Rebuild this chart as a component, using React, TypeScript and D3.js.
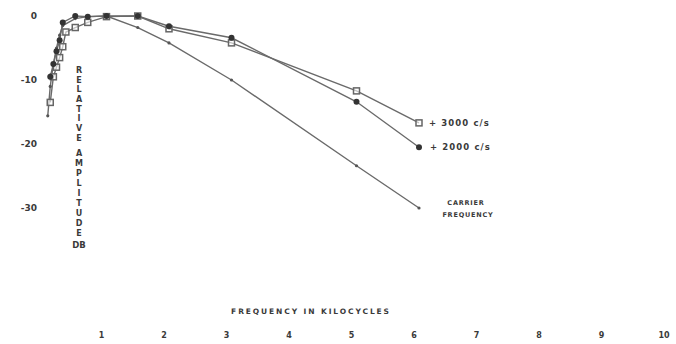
import React from "react";
import * as d3 from "d3";

// frequency in kc, relative amplitude in db
const carrierFreq = [0.06, 0.1, 0.15, 0.2, 0.25, 0.3, 0.5, 0.7, 1, 1.5, 2, 3, 5, 6];
const carrierDb = [-15.6, -11, -7.5, -5, -3, -1.5, -0.4, -0.1, 0, -1.8, -4.2, -10, -23.4, -30];

const plus2000Freq = [0.1, 0.15, 0.2, 0.25, 0.3, 0.5, 0.7, 1, 1.5, 2, 3, 5, 6];
const plus2000Db = [-9.5, -7.5, -5.5, -3.8, -1, 0, -0.1, 0, 0, -1.6, -3.4, -13.4, -20.5];

const plus3000Freq = [0.1, 0.15, 0.2, 0.25, 0.3, 0.35, 0.5, 0.7, 1, 1.5, 2, 3, 5, 6];
const plus3000Db = [-13.5, -9.5, -8, -6.5, -4.8, -2.5, -1.8, -1, -0.1, 0, -2, -4.2, -11.7, -16.7];

const xTicks = [1, 2, 3, 4, 5, 6, 7, 8, 9, 10];
const yTicks = [0, -10, -20, -30];

const yLabelWords = ["RELATIVE", "AMPLITUDE"];

const W = 676;
const H = 344;
const ink = "#3a3a3a";
const lineCol = "#6a6a6a";
const font = "'DejaVu Sans', sans-serif";

export default function App() {
  const x = d3.scaleLinear().domain([0, 10]).range([44, 669]);
  const y = d3.scaleLinear().domain([0, -30]).range([16, 208]);

  const line = d3
    .line<[number, number]>()
    .x((d) => x(d[0]))
    .y((d) => y(d[1]));

  const carrier = carrierFreq.map((f, i) => [f, carrierDb[i]] as [number, number]);
  const s2000 = plus2000Freq.map((f, i) => [f, plus2000Db[i]] as [number, number]);
  const s3000 = plus3000Freq.map((f, i) => [f, plus3000Db[i]] as [number, number]);

  // vertical stacked axis title
  const letters: { ch: string; y: number }[] = [];
  yLabelWords.forEach((w, wi) => {
    const start = wi === 0 ? 70 : 153;
    const step = wi === 0 ? 9.7 : 10;
    w.split("").forEach((ch, i) => letters.push({ ch, y: start + i * step }));
  });

  return (
    <svg
      width={W}
      height={H}
      style={{ position: "absolute", left: 0, top: 0, background: "#fff" }}
      fontFamily={font}
      fontWeight="bold"
    >
      {/* y tick labels */}
      {yTicks.map((t) => (
        <text key={t} x={37} y={y(t)} dy="0.35em" textAnchor="end" fontSize={9} fill={ink}>
          {t === 0 ? "0" : `-${Math.abs(t)}`}
        </text>
      ))}

      {/* x tick labels */}
      {xTicks.map((t) => (
        <text key={t} x={x(t) - 5} y={338} textAnchor="middle" fontSize={8} fill={ink}>
          {t}
        </text>
      ))}

      <text x={311} y={314} textAnchor="middle" fontSize={7.5} letterSpacing={1.9} fill={ink}>
        FREQUENCY IN KILOCYCLES
      </text>

      {letters.map((l, i) => (
        <text key={i} x={79} y={l.y} dy="0.35em" textAnchor="middle" fontSize={8} fill={ink}>
          {l.ch}
        </text>
      ))}
      <text x={79} y={245} dy="0.35em" textAnchor="middle" fontSize={8.5} fill={ink}>
        DB
      </text>

      {/* curves */}
      <path d={line(carrier) || ""} fill="none" stroke={lineCol} strokeWidth={1.4} />
      <path d={line(s2000) || ""} fill="none" stroke={lineCol} strokeWidth={1.4} />
      <path d={line(s3000) || ""} fill="none" stroke={lineCol} strokeWidth={1.4} />

      {carrier.map((d, i) => (
        <circle key={"c" + i} cx={x(d[0])} cy={y(d[1])} r={1.6} fill="#555" />
      ))}
      {s3000.map((d, i) => (
        <rect
          key={"s" + i}
          x={x(d[0]) - 3}
          y={y(d[1]) - 3}
          width={6}
          height={6}
          fill="#fff"
          fillOpacity={0.6}
          stroke="#666"
          strokeWidth={1.5}
        />
      ))}
      {s2000.map((d, i) => (
        <circle key={"d" + i} cx={x(d[0])} cy={y(d[1])} r={3} fill="#333" />
      ))}

      {/* series labels */}
      <text x={429} y={y(plus3000Db[plus3000Db.length - 1])} dy="0.35em" fontSize={8.5} fill={ink} letterSpacing={1.1}>
        + 3000 c/s
      </text>
      <text x={430} y={y(plus2000Db[plus2000Db.length - 1])} dy="0.35em" fontSize={8.5} fill={ink} letterSpacing={1.1}>
        + 2000 c/s
      </text>
      <text x={466} y={203} dy="0.35em" textAnchor="middle" fontSize={6.5} letterSpacing={0.8} fill={ink}>
        CARRIER
      </text>
      <text x={468} y={215} dy="0.35em" textAnchor="middle" fontSize={6.5} letterSpacing={0.8} fill={ink}>
        FREQUENCY
      </text>
    </svg>
  );
}
